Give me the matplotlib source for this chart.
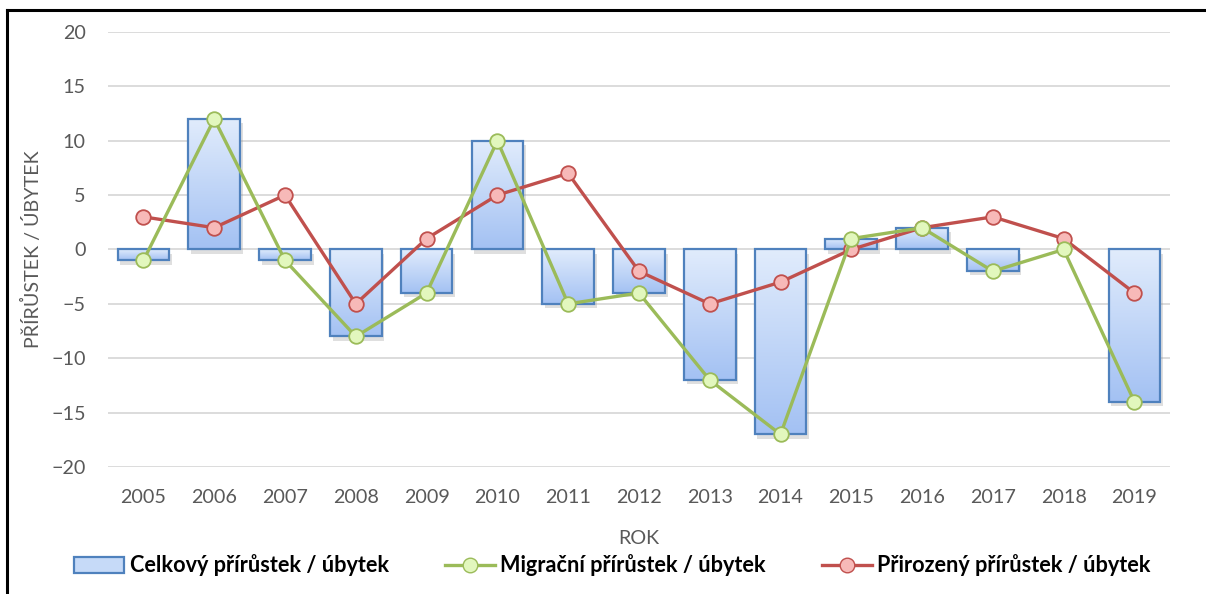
import numpy as np
import matplotlib
matplotlib.use('Agg')
import matplotlib.pyplot as plt
from matplotlib.lines import Line2D
from matplotlib.patches import Patch
import matplotlib.patheffects as pe
from matplotlib.colors import LinearSegmentedColormap

# data
years = ['2005', '2006', '2007', '2008', '2009', '2010', '2011', '2012',
         '2013', '2014', '2015', '2016', '2017', '2018', '2019']
celkovy = [-1, 12, -1, -8, -4, 10, -5, -4, -12, -17, 1, 2, -2, 0, -14]
migracni = [-1, 12, -1, -8, -4, 10, -5, -4, -12, -17, 1, 2, -2, 0, -14]
prirozeny = [3, 2, 5, -5, 1, 5, 7, -2, -5, -3, 0, 2, 3, 1, -4]

plt.rcParams['font.family'] = ['Lato', 'DejaVu Sans']

fig = plt.figure(figsize=(12.06, 5.94), dpi=100)
ax = fig.add_axes([0.0896, 0.2138, 0.8804, 0.7324])

x = np.arange(len(years))
grey = '#595959'

# bars with a light-to-dark blue gradient and a soft shadow
bars = ax.bar(x, celkovy, width=0.73, color='#bcd3f6', edgecolor='none', zorder=2,
              path_effects=[pe.SimplePatchShadow(offset=(2, -3), shadow_rgbFace='#8f8f8f', alpha=0.28),
                            pe.Normal()])
cmap = LinearSegmentedColormap.from_list('grad', ['#e1ecfc', '#a3c1f3'])
grad = np.linspace(0, 1, 256).reshape(-1, 1)
for b in bars:
    bx, by = b.get_x(), b.get_y()
    w, h = b.get_width(), b.get_height()
    if h == 0:
        b.set_visible(False)
        continue
    y0, y1 = min(by, by + h), max(by, by + h)
    im = ax.imshow(grad, cmap=cmap, aspect='auto', extent=(bx, bx + w, y0, y1),
                   origin='upper', zorder=2.1)
    im.set_clip_path(b)
edges = ax.bar(x, celkovy, width=0.73, facecolor='none', edgecolor='#4f81bd', linewidth=1.6, zorder=2.2)
for e, v in zip(edges, celkovy):
    if v == 0:
        e.set_visible(False)

ax.plot(x, prirozeny, color='#c0504d', lw=2.4, marker='o', ms=10.5,
        mfc='#f7b9b8', mec='#c0504d', mew=1.3, zorder=3)
ax.plot(x, migracni, color='#9bbb59', lw=2.4, marker='o', ms=10.5,
        mfc='#e2f7bd', mec='#9bbb59', mew=1.3, zorder=4)

ax.set_xlim(-0.5, len(years) - 0.5)
ax.set_ylim(-20, 20)
ax.set_yticks(range(-20, 21, 5))
ax.set_xticks(x)
ax.set_xticklabels(years)
ax.yaxis.grid(True, color='#d9d9d9', lw=1.3, zorder=0)
ax.set_axisbelow(True)
for s in ax.spines.values():
    s.set_visible(False)
ax.tick_params(length=0, labelsize=14.2, colors=grey)
ax.tick_params(axis='y', pad=16)
ax.tick_params(axis='x', pad=16)

ax.set_xlabel('ROK', fontsize=14.2, color=grey, labelpad=17)
ax.set_ylabel('PŘÍRŮSTEK / ÚBYTEK', fontsize=14.2, color=grey, labelpad=7)

handles = [
    Patch(facecolor='#c6daf8', edgecolor='#4f81bd', linewidth=1.6),
    Line2D([], [], color='#9bbb59', lw=2.4, marker='o', ms=10.5, mfc='#e2f7bd', mec='#9bbb59'),
    Line2D([], [], color='#c0504d', lw=2.4, marker='o', ms=10.5, mfc='#f7b9b8', mec='#c0504d'),
]
labels = ['Celkový přírůstek / úbytek', 'Migrační přírůstek / úbytek', 'Přirozený přírůstek / úbytek']
fig.legend(handles, labels, loc='center', bbox_to_anchor=(0.508, 0.048), ncol=3, frameon=False,
           prop={'weight': 'bold', 'size': 15.6}, handlelength=2.3, handletextpad=0.25,
           columnspacing=2.6, handleheight=0.75)

# title that is cut off by the top of the image (only descenders show)
fig.text(0.5, 1 + 4 / 594, 'Vývoj počtu obyvatel – migrační a přirozený přírůstek / úbytek, 2005 – 2019',
         ha='center', va='baseline', fontsize=16, color='black')

# frame lines on top and left
fig.add_artist(Line2D([7 / 1206, 7 / 1206], [0, 1 - 10 / 594], transform=fig.transFigure,
                      color='black', lw=2.2))
fig.add_artist(Line2D([7 / 1206, 1], [1 - 10 / 594, 1 - 10 / 594], transform=fig.transFigure,
                      color='black', lw=2.2))

fig.savefig('out.png', dpi=100)
